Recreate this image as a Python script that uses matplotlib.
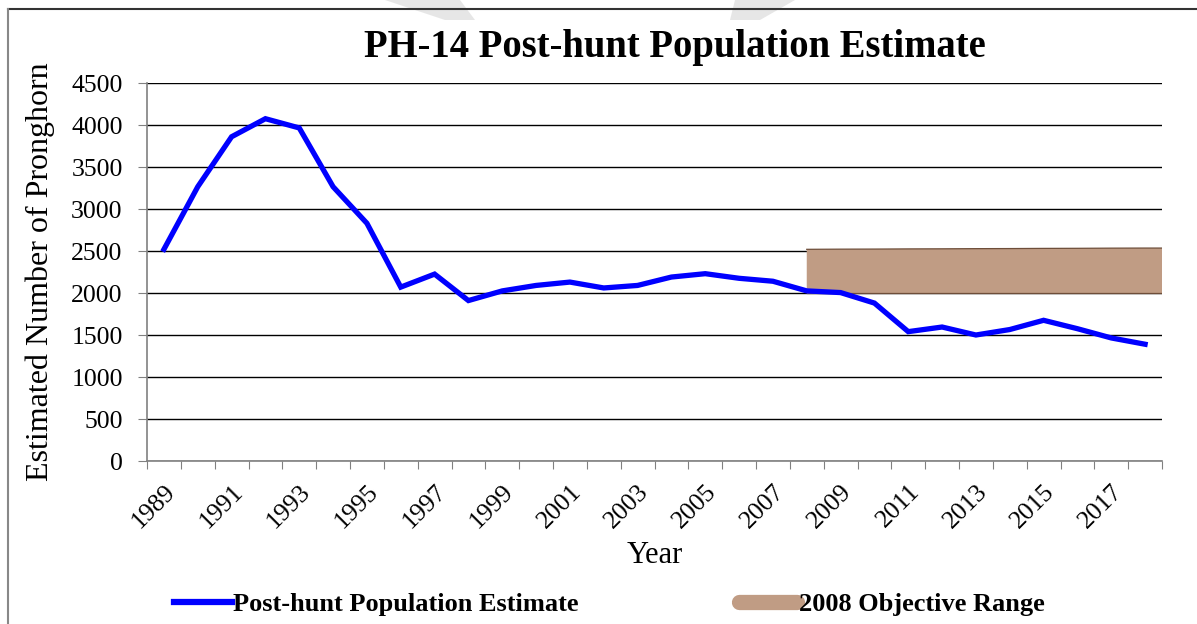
import matplotlib
matplotlib.use("Agg")
import matplotlib.pyplot as plt
from matplotlib.lines import Line2D
from matplotlib.patches import Polygon

plt.rcParams['font.family'] = ['Liberation Serif', 'DejaVu Serif']

# data
years = list(range(1989, 2019))
population = [2520, 3265, 3860, 4075, 3965, 3265, 2830, 2070, 2225, 1910,
              2025, 2090, 2130, 2060, 2090, 2190, 2230, 2175, 2140, 2025,
              2005, 1880, 1540, 1595, 1500, 1565, 1675, 1575, 1465, 1390]
objective_years = list(range(2008, 2019))
objective_low = [2000] * 11
objective_high = [2520, 2522, 2523, 2525, 2526, 2528, 2529, 2531, 2532, 2534, 2535]
year_labels = [str(y) for y in years[::2]]

W, H = 1197, 624
fig = plt.figure(figsize=(W / 100, H / 100), dpi=100)
ax = fig.add_axes([147 / W, 1 - 461 / H, (1162 - 147) / W, (461 - 83) / H])

x = list(range(len(years)))
ax.plot(x, population, color='#0000FF', lw=3.8, zorder=4, solid_joinstyle='miter')

# objective band, runs from 2008 to the right edge of the plot
ox = [years.index(y) for y in objective_years] + [len(years) - 0.5]
olo = objective_low + objective_low[-1:]
ohi = objective_high + objective_high[-1:]
ax.fill_between(ox, olo, ohi, facecolor='#C09C84', edgecolor='none', zorder=3)
ax.plot(ox, ohi, color='#6E4E3A', lw=0.9, zorder=3)
ax.plot(ox, olo, color='#6E4E3A', lw=0.9, zorder=3)

ax.set_xlim(-0.5, len(years) - 0.5)
ax.set_ylim(0, 4500)
ax.set_yticks(range(0, 4501, 500))
ax.yaxis.grid(True, color='black', lw=1.0)
ax.set_axisbelow(True)

# tick marks on category boundaries, labels on every other category
ax.set_xticks([i - 0.5 for i in range(len(years) + 1)])
ax.set_xticklabels([])
ax.set_xticks(x[::2], minor=True)
ax.set_xticklabels(year_labels, minor=True, rotation=45, ha='right',
                   rotation_mode='anchor', fontsize=18.5)
ax.tick_params(axis='x', which='minor', length=0, pad=14)
ax.tick_params(axis='x', which='major', length=6, color='#808080', direction='out')
ax.tick_params(axis='y', length=6.5, color='#808080', labelsize=18.5, pad=11)

for s in ['top', 'right']:
    ax.spines[s].set_visible(False)
ax.spines['left'].set_color('#808080')
ax.spines['bottom'].set_color('#808080')
ax.spines['left'].set_linewidth(1.2)
ax.spines['bottom'].set_linewidth(1.2)

ax.set_xlabel('Year', fontsize=22, labelpad=6)
ax.set_ylabel('Estimated Number of Pronghorn', fontsize=23, labelpad=12)

fig.text(675 / W, 1 - 47 / H, 'PH-14 Post-hunt Population Estimate',
         ha='center', va='center', fontsize=27.8, fontweight='bold')

handles = [Line2D([], [], color='#0000FF', lw=4.5),
           Line2D([], [], color='#C09C84', lw=11, solid_capstyle='round')]
fig.legend(handles, ['Post-hunt Population Estimate', '2008 Objective Range'],
           loc='center', bbox_to_anchor=(609 / W, 1 - 604 / H), ncol=2,
           frameon=False, handlelength=2.2, handletextpad=0.05,
           columnspacing=6.1, prop={'weight': 'bold', 'size': 19})

# page border and the faint watermark edges at the top
fig.add_artist(Line2D([8 / W, 1], [1 - 9 / H, 1 - 9 / H], color='#333333', lw=1.5))
fig.add_artist(Line2D([8 / W, 8 / W], [0, 1 - 9 / H], color='#888888', lw=1.5))
for pts in ([(385, 0), (460, 0), (475, 20), (445, 20)],
            [(735, 0), (795, 0), (760, 20), (730, 20)]):
    fig.add_artist(Polygon([(px / W, 1 - py / H) for px, py in pts],
                           closed=True, facecolor='#E6E6E6', edgecolor='none',
                           transform=fig.transFigure, zorder=0))

fig.savefig('out.png', dpi=100)
